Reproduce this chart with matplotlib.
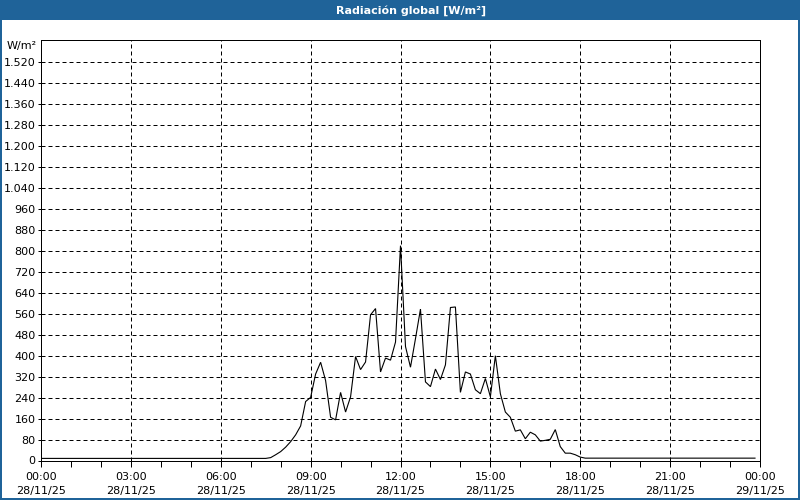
import matplotlib
matplotlib.use("Agg")
import matplotlib.pyplot as plt
import matplotlib.dates as mdates
from matplotlib.patches import Rectangle
from matplotlib.ticker import FuncFormatter
import pandas as pd

title = "Radiación global [W/m²]"
unit_label = "W/m²"
start_time = "2025-11-28 00:00"
end_time = "2025-11-29 00:00"
step = "10min"

# values every 10 minutes from 00:00 to 23:50 (W/m²)
night_am = [8, 8, 8, 8, 8, 8, 8, 8, 8, 8, 8, 8,
            8, 8, 8, 8, 8, 8, 8, 8, 8, 8, 8, 8,
            8, 8, 8, 8, 8, 8, 8, 8, 8, 8, 8, 8,
            8, 8, 8, 8, 8, 8, 8, 8, 8, 8]
day = [11, 22,
       34, 51, 72, 98, 132, 225,
       241, 330, 375, 305, 165, 155,
       260, 185, 243, 397, 347, 376,
       556, 580, 338, 391, 383, 452,
       820, 435, 356, 465, 578, 300,
       282, 349, 309, 365, 584, 586,
       260, 338, 330, 270, 255, 313,
       243, 400, 255, 185, 165, 112,
       117, 83, 108, 98, 74, 77,
       81, 118, 53, 28, 28, 22,
       13]
night_pm = [9, 9, 9, 9, 9, 9, 9, 9, 9, 9, 9, 9,
            9, 9, 9, 9, 9, 9, 9, 9, 9, 9, 9, 9,
            9, 9, 9, 9, 9, 9, 9, 9, 9, 9, 9]
values = night_am + day + night_pm
times = pd.date_range(start_time, periods=len(values), freq=step)

y_ticks = list(range(0, 1521, 80))

BLUE = "#1f6399"
W, H = 800, 500
PX = 0.72  # one pixel in points at 100 dpi

fig = plt.figure(figsize=(8, 5), dpi=100)
fig.patch.set_facecolor("white")

# title bar and border
fig.add_artist(Rectangle((0, 1 - 20 / H), 1, 20 / H, transform=fig.transFigure,
                         facecolor=BLUE, edgecolor="none", zorder=0))
fig.add_artist(Rectangle((0, 0), 2 / W, 1, transform=fig.transFigure,
                         facecolor=BLUE, edgecolor="none"))
fig.add_artist(Rectangle((1 - 2 / W, 0), 2 / W, 1, transform=fig.transFigure,
                         facecolor=BLUE, edgecolor="none"))
fig.add_artist(Rectangle((0, 0), 1, 2 / H, transform=fig.transFigure,
                         facecolor=BLUE, edgecolor="none"))
fig.text(411 / W, 1 - 10.5 / H, title, color="white", fontweight="bold",
         ha="center", va="center", fontsize=8, family="DejaVu Sans")

left, right, top, bottom = 41, 760, 40, 460.5
ax = fig.add_axes([left / W, 1 - bottom / H, (right - left) / W, (bottom - top) / H])
ax.set_facecolor("white")

ax.plot(times, values, color="black", linewidth=0.8, antialiased=True,
        solid_joinstyle="miter", zorder=3)

ax.set_xlim(pd.Timestamp(start_time), pd.Timestamp(end_time))
ax.set_ylim(0, 1605)
ax.set_yticks(y_ticks)
ax.yaxis.set_major_formatter(FuncFormatter(lambda v, p: f"{int(v):,}".replace(",", ".")))

ax.xaxis.set_major_locator(mdates.HourLocator(byhour=range(0, 24, 3)))
ax.xaxis.set_minor_locator(mdates.HourLocator(interval=1))
ax.xaxis.set_major_formatter(mdates.DateFormatter("%H:%M\n%d/%m/%y"))

ax.grid(True, which="major", color="black", linestyle=(0, (4, 3)), linewidth=PX)
for s in ax.spines.values():
    s.set_color("black")
    s.set_linewidth(PX)

ax.tick_params(axis="x", which="both", direction="out", length=4, width=PX,
               labelsize=8, pad=4, colors="black")
ax.tick_params(axis="y", which="both", direction="out", length=2, width=PX,
               labelsize=8, pad=2, colors="black")
for lbl in ax.get_xticklabels():
    lbl.set_linespacing(1.5)

fig.text((left - 4) / W, 1 - 46 / H, unit_label, ha="right", va="center", fontsize=8)

fig.savefig("out.png", dpi=100)
